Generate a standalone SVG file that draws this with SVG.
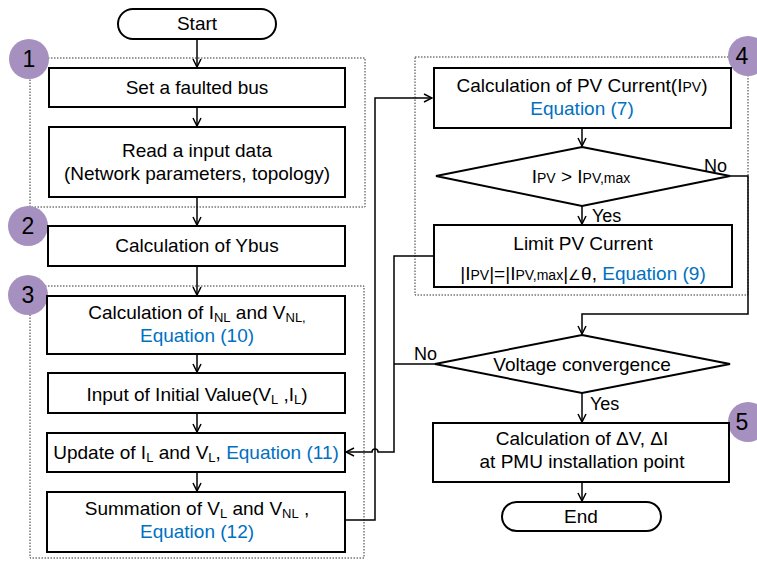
<svg xmlns="http://www.w3.org/2000/svg" width="757" height="561" viewBox="0 0 757 561">
  <style>
    text { font-family: "Liberation Sans", Arial, sans-serif; font-size: 19px; fill: #000; text-anchor: middle; }
    .eq { fill: #0070C0; }
    .lbl { font-size: 18px; text-anchor: start; }
    .num { font-size: 23px; }
    .box { fill: #fff; stroke: #000; stroke-width: 2; }
    .group { fill: none; stroke: #333; stroke-width: 1; stroke-dasharray: 1.5 1.5; }
    .badge { fill: #A690BF; }
    .wire { fill: none; stroke: #000; stroke-width: 1.5; }
  </style>
  <defs>
    <marker id="arrow" viewBox="0 0 10 10" refX="9" refY="5" markerWidth="10" markerHeight="10" markerUnits="userSpaceOnUse" orient="auto">
      <path d="M1,1 L9,5 L1,9" fill="none" stroke="#000" stroke-width="1.5"/>
    </marker>
  </defs>

  <rect width="757" height="561" fill="#fff"/>

  <!-- dotted stage frames -->
  <g id="stages">
    <rect class="group" x="30" y="58" width="335" height="149"/>
    <rect class="group" x="30" y="286" width="334" height="272"/>
    <rect class="group" x="415" y="57" width="333" height="238"/>
  </g>

  <!-- connectors -->
  <g id="connectors" class="wire">
    <path d="M197,39 V67" marker-end="url(#arrow)"/>
    <path d="M197,107 V126" marker-end="url(#arrow)"/>
    <path d="M197,197 V225" marker-end="url(#arrow)"/>
    <path d="M197,266 V295" marker-end="url(#arrow)"/>
    <path d="M197,354 V372" marker-end="url(#arrow)"/>
    <path d="M197,413 V432" marker-end="url(#arrow)"/>
    <path d="M197,472 V491" marker-end="url(#arrow)"/>
    <path d="M345,520 H375 V98 H432" marker-end="url(#arrow)"/>
    <path d="M582,128 V146" marker-end="url(#arrow)"/>
    <path d="M582,206 V224" marker-end="url(#arrow)"/>
    <path d="M730,176 H748 V314 H582 V334" marker-end="url(#arrow)"/>
    <path d="M434,256 H394 V452 H378 A3,3 0 0 0 372,452 H346" marker-end="url(#arrow)"/>
    <path d="M435,364 H394"/>
    <path d="M582,393 V422" marker-end="url(#arrow)"/>
    <path d="M582,482 V501" marker-end="url(#arrow)"/>
  </g>

  <!-- stage badges -->
  <g id="badge1"><circle class="badge" cx="29" cy="59" r="20"/><text class="num" x="29" y="67">1</text></g>
  <g id="badge2"><circle class="badge" cx="28" cy="226" r="20"/><text class="num" x="28" y="234">2</text></g>
  <g id="badge3"><circle class="badge" cx="28" cy="295" r="20"/><text class="num" x="28" y="303">3</text></g>
  <g id="badge4"><circle class="badge" cx="748" cy="56" r="20"/><text class="num" x="742" y="64">4</text></g>
  <g id="badge5"><circle class="badge" cx="748" cy="422" r="20"/><text class="num" x="742" y="430">5</text></g>

  <g id="start">
    <rect class="box" x="118" y="9" width="158" height="30" rx="15" stroke-width="1.5"/>
    <text x="197" y="30">Start</text>
  </g>

  <g id="set-fault">
    <rect class="box" x="49" y="68" width="296" height="39"/>
    <text x="197" y="94">Set a faulted bus</text>
  </g>

  <g id="read-input">
    <rect class="box" x="49" y="127" width="296" height="70"/>
    <text x="197" y="157">Read a input data</text>
    <text x="197" y="180">(Network parameters, topology)</text>
  </g>

  <g id="ybus">
    <rect class="box" x="48" y="226" width="297" height="40"/>
    <text x="197" y="252">Calculation of Ybus</text>
  </g>

  <g id="inl-vnl">
    <rect class="box" x="47" y="296" width="298" height="58"/>
    <text x="197" y="319">Calculation of I<tspan font-size="13" dy="3">NL</tspan><tspan dy="-3"> and V</tspan><tspan font-size="13" dy="3">NL,</tspan></text>
    <text class="eq" x="197" y="342">Equation (10)</text>
  </g>

  <g id="initial-value">
    <rect class="box" x="48" y="373" width="297" height="40"/>
    <text x="197" y="401">Input of Initial Value(V<tspan font-size="13" dy="3">L</tspan><tspan dy="-3"> ,I</tspan><tspan font-size="13" dy="3">L</tspan><tspan dy="-3">)</tspan></text>
  </g>

  <g id="update">
    <rect class="box" x="47" y="433" width="298" height="39"/>
    <text x="196" y="459">Update of I<tspan font-size="13" dy="3">L</tspan><tspan dy="-3"> and V</tspan><tspan font-size="13" dy="3">L</tspan><tspan dy="-3">, </tspan><tspan class="eq">Equation (11)</tspan></text>
  </g>

  <g id="summation">
    <rect class="box" x="47" y="492" width="298" height="60"/>
    <text x="197" y="515">Summation of V<tspan font-size="13" dy="3">L</tspan><tspan dy="-3"> and V</tspan><tspan font-size="13" dy="3">NL</tspan><tspan dy="-3"> ,</tspan></text>
    <text class="eq" x="197" y="538">Equation (12)</text>
  </g>

  <g id="pv-current">
    <rect class="box" x="434" y="68" width="297" height="60"/>
    <text x="582" y="92">Calculation of PV Current(I<tspan font-size="14">PV</tspan>)</text>
    <text class="eq" x="582" y="115">Equation (7)</text>
  </g>

  <g id="pv-check">
    <polygon class="box" points="582,147 730,176 582,206 436,176"/>
    <text x="581" y="183">I<tspan font-size="14">PV</tspan> &gt; I<tspan font-size="14">PV,max</tspan></text>
  </g>

  <g id="pv-limit">
    <rect class="box" x="434" y="225" width="298" height="62"/>
    <text x="583" y="250">Limit PV Current</text>
    <text x="583" y="280">|I<tspan font-size="14">PV</tspan>|=|I<tspan font-size="14">PV,max</tspan>|<tspan font-size="14">∠</tspan>θ, <tspan class="eq">Equation (9)</tspan></text>
  </g>

  <g id="convergence">
    <polygon class="box" points="582,335 730,364 582,393 435,364"/>
    <text x="582" y="371">Voltage convergence</text>
  </g>

  <g id="delta-calc">
    <rect class="box" x="433" y="423" width="296" height="59"/>
    <text x="582" y="445">Calculation of ΔV, ΔI</text>
    <text x="582" y="468">at PMU installation point</text>
  </g>

  <g id="end">
    <rect class="box" x="502" y="502" width="159" height="29" rx="14.5" stroke-width="1.5"/>
    <text x="581" y="523">End</text>
  </g>

  <!-- branch labels -->
  <g id="branch-labels">
    <text class="lbl" x="704" y="172">No</text>
    <text class="lbl" x="592" y="222">Yes</text>
    <text class="lbl" x="414" y="360">No</text>
    <text class="lbl" x="590" y="410">Yes</text>
  </g>
</svg>
